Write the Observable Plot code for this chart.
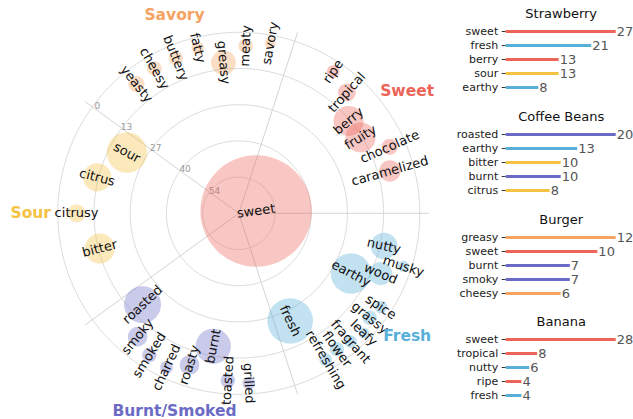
<!DOCTYPE html>
<html><head><meta charset="utf-8">
<script src="https://cdn.jsdelivr.net/npm/d3@7"></script>
<script src="https://cdn.jsdelivr.net/npm/@observablehq/plot@0.6"></script>
<style>
body{margin:0;background:#fff;font-family:"DejaVu Sans",sans-serif;}
#wrap{position:relative;width:633px;height:419px;overflow:hidden;}
#wheel{position:absolute;left:0;top:0;width:440px;height:419px;}
.panel{position:absolute;left:440px;width:193px;height:103px;}
svg{overflow:visible;}
</style></head><body><div id="wrap"><div id="wheel"></div></div>
<script>
// ---------- data ----------
const categories = ["Sweet", "Savory", "Sour", "Burnt/Smoked", "Fresh"];
const categoryColors = ["#ec6558", "#f4a362", "#f5c244", "#6b6bc6", "#58b0d9"];

const sweetFlavors = ["sweet", "caramelized", "chocolate", "fruity", "berry", "tropical", "ripe"];
const sweetCounts = [61, 9, 6, 14, 14, 7, 4];
const savoryFlavors = ["savory", "meaty", "greasy", "fatty", "buttery", "cheesy", "yeasty"];
const savoryCounts = [3, 5, 11, 4, 5, 5, 6];
const sourFlavors = ["sour", "citrus", "citrusy", "bitter"];
const sourCounts = [20, 13, 7, 14];
const burntFlavors = ["roasted", "smoky", "smoked", "charred", "roasty", "burnt", "toasted", "grilled"];
const burntCounts = [18, 8, 5, 4, 8, 17, 5, 4];
const freshFlavors = ["fresh", "refreshing", "flower", "fragrant", "leafy", "grassy", "spice", "earthy", "wood", "musky", "nutty"];
const freshCounts = [23, 4, 5, 4, 3, 5, 4, 20, 10, 3, 12];

const ringTicks = [0, 13.5, 27, 40.5, 54];
const ringTickLabels = ["0", "13", "27", "40", "54"];

const foodTitles = ["Strawberry", "Coffee Beans", "Burger", "Banana"];
const strawberryFlavors = ["sweet", "fresh", "berry", "sour", "earthy"];
const strawberryCounts = [27, 21, 13, 13, 8];
const coffeeFlavors = ["roasted", "earthy", "bitter", "burnt", "citrus"];
const coffeeCounts = [20, 13, 10, 10, 8];
const burgerFlavors = ["greasy", "sweet", "burnt", "smoky", "cheesy"];
const burgerCounts = [12, 10, 7, 7, 6];
const bananaFlavors = ["sweet", "tropical", "nutty", "ripe", "fresh"];
const bananaCounts = [28, 8, 6, 4, 4];

// ---------- wheel ----------
const groups = [
  [sweetFlavors, sweetCounts], [savoryFlavors, savoryCounts], [sourFlavors, sourCounts],
  [burntFlavors, burntCounts], [freshFlavors, freshCounts]
];
const CENTER_VALUE = 67.5;          // value drawn at the centre (axis inverted)
const K = 181 / CENTER_VALUE;       // px per unit
const CX = 238.3, CY = 212.8, W = 440, H = 419;
const rad = d => d * Math.PI / 180;
const polar = (value, deg) => {
  const u = CENTER_VALUE - value;
  return {x: u * Math.cos(rad(deg)), y: u * Math.sin(rad(deg))};
};

const flavorCategory = {};
const rows = [];
groups.forEach(([flavors, counts], ci) => {
  const n = flavors.length;
  flavors.forEach((f, i) => {
    flavorCategory[f] = categories[ci];
    const deg = ci * 72 + 7.5 + i * 57 / n;
    const p = polar(counts[i], deg);
    rows.push({flavor: f, count: counts[i], cat: categories[ci], x: p.x, y: p.y,
      rotate: Math.cos(rad(deg)) >= 0 ? -deg : 180 - deg});
  });
});

const ringPts = [];
ringTicks.forEach((v, ri) => {
  for (let a = 0; a <= 360; a += 2) { const p = polar(v, a); ringPts.push({ring: ri, x: p.x, y: p.y}); }
});
const SPOKE_END = -3.4;
const spokes = categories.map((c, i) => { const p = polar(SPOKE_END, i * 72); return {x2: p.x, y2: p.y}; });
const ringLabels = ringTicks.map((v, i) => { const p = polar(v + 1.1, 144); return {x: p.x, y: p.y, t: ringTickLabels[i]}; });
const CAT_LABEL_VALUE = -10.1;
const catLabels = categories.map((c, i) => { const p = polar(CAT_LABEL_VALUE, i * 72 + 36); return {c, x: p.x, y: p.y}; });

const wheel = Plot.plot({
  width: W, height: H, margin: 0,
  style: {fontFamily: "DejaVu Sans", background: "transparent", overflow: "visible"},
  x: {domain: [-CX / K, (W - CX) / K], range: [0, W], axis: null},
  y: {domain: [-(H - CY) / K, CY / K], range: [H, 0], axis: null},
  r: {type: "linear", domain: [0, 61], range: [2.9, 55.7]},
  color: {domain: categories, range: categoryColors},
  marks: [
    Plot.line(ringPts, {x: "x", y: "y", z: "ring", stroke: "#dcdcdc", strokeWidth: 1}),
    Plot.link(spokes, {x1: 0, y1: 0, x2: "x2", y2: "y2", stroke: "#d4d4d4", strokeWidth: 1}),
    Plot.text(ringLabels, {x: "x", y: "y", text: "t", fill: "#999", fontSize: 9, dx: 2.5, dy: -3}),
    Plot.dot(rows, {x: "x", y: "y", r: "count", fill: "cat", fillOpacity: 0.36, stroke: "none", sort: null}),
    Plot.text(rows, {x: "x", y: "y", text: "flavor", rotate: "rotate", fontSize: 13, fill: "#111"}),
    Plot.text(catLabels, {x: "x", y: "y", text: "c", fill: "c", fontSize: 15.5, fontWeight: "bold"})
  ]
});
document.getElementById("wheel").appendChild(wheel);

// ---------- bar panels ----------
const panels = [
  [strawberryFlavors, strawberryCounts], [coffeeFlavors, coffeeCounts],
  [burgerFlavors, burgerCounts], [bananaFlavors, bananaCounts]
];
panels.forEach(([flavors, counts], pi) => {
  const data = flavors.map((f, i) => ({flavor: f, count: counts[i], cat: flavorCategory[f]}));
  const chart = Plot.plot({
    width: 193, height: 103,
    marginLeft: 65.7, marginRight: 17.3, marginTop: 29.3, marginBottom: 14.3,
    style: {fontFamily: "DejaVu Sans", fontSize: "11px", background: "transparent", overflow: "visible"},
    x: {domain: [0, d3.max(counts)], range: [65.7, 175.7], axis: null},
    y: {type: "point", domain: flavors, range: [29.3, 88.7], padding: 0, axis: null},
    color: {domain: categories, range: categoryColors},
    marks: [
      Plot.axisY({tickSize: 4, tickPadding: 4, fontSize: 11, color: "#222", stroke: "#333", label: null}),
      Plot.ruleY(data, {y: "flavor", x1: 0, x2: "count", stroke: "cat", strokeWidth: 3}),
      Plot.text(data, {x: "count", y: "flavor", text: "count", textAnchor: "start", dx: 0.5, fill: "#555", fontSize: 13}),
      Plot.text([foodTitles[pi]], {frameAnchor: "top", lineAnchor: "middle", dy: -16, fontSize: 13, fill: "#111"})
    ]
  });
  const div = document.createElement("div");
  div.className = "panel";
  div.style.top = (pi * 102.8) + "px";
  div.appendChild(chart);
  document.getElementById("wrap").appendChild(div);
});
</script></body></html>
